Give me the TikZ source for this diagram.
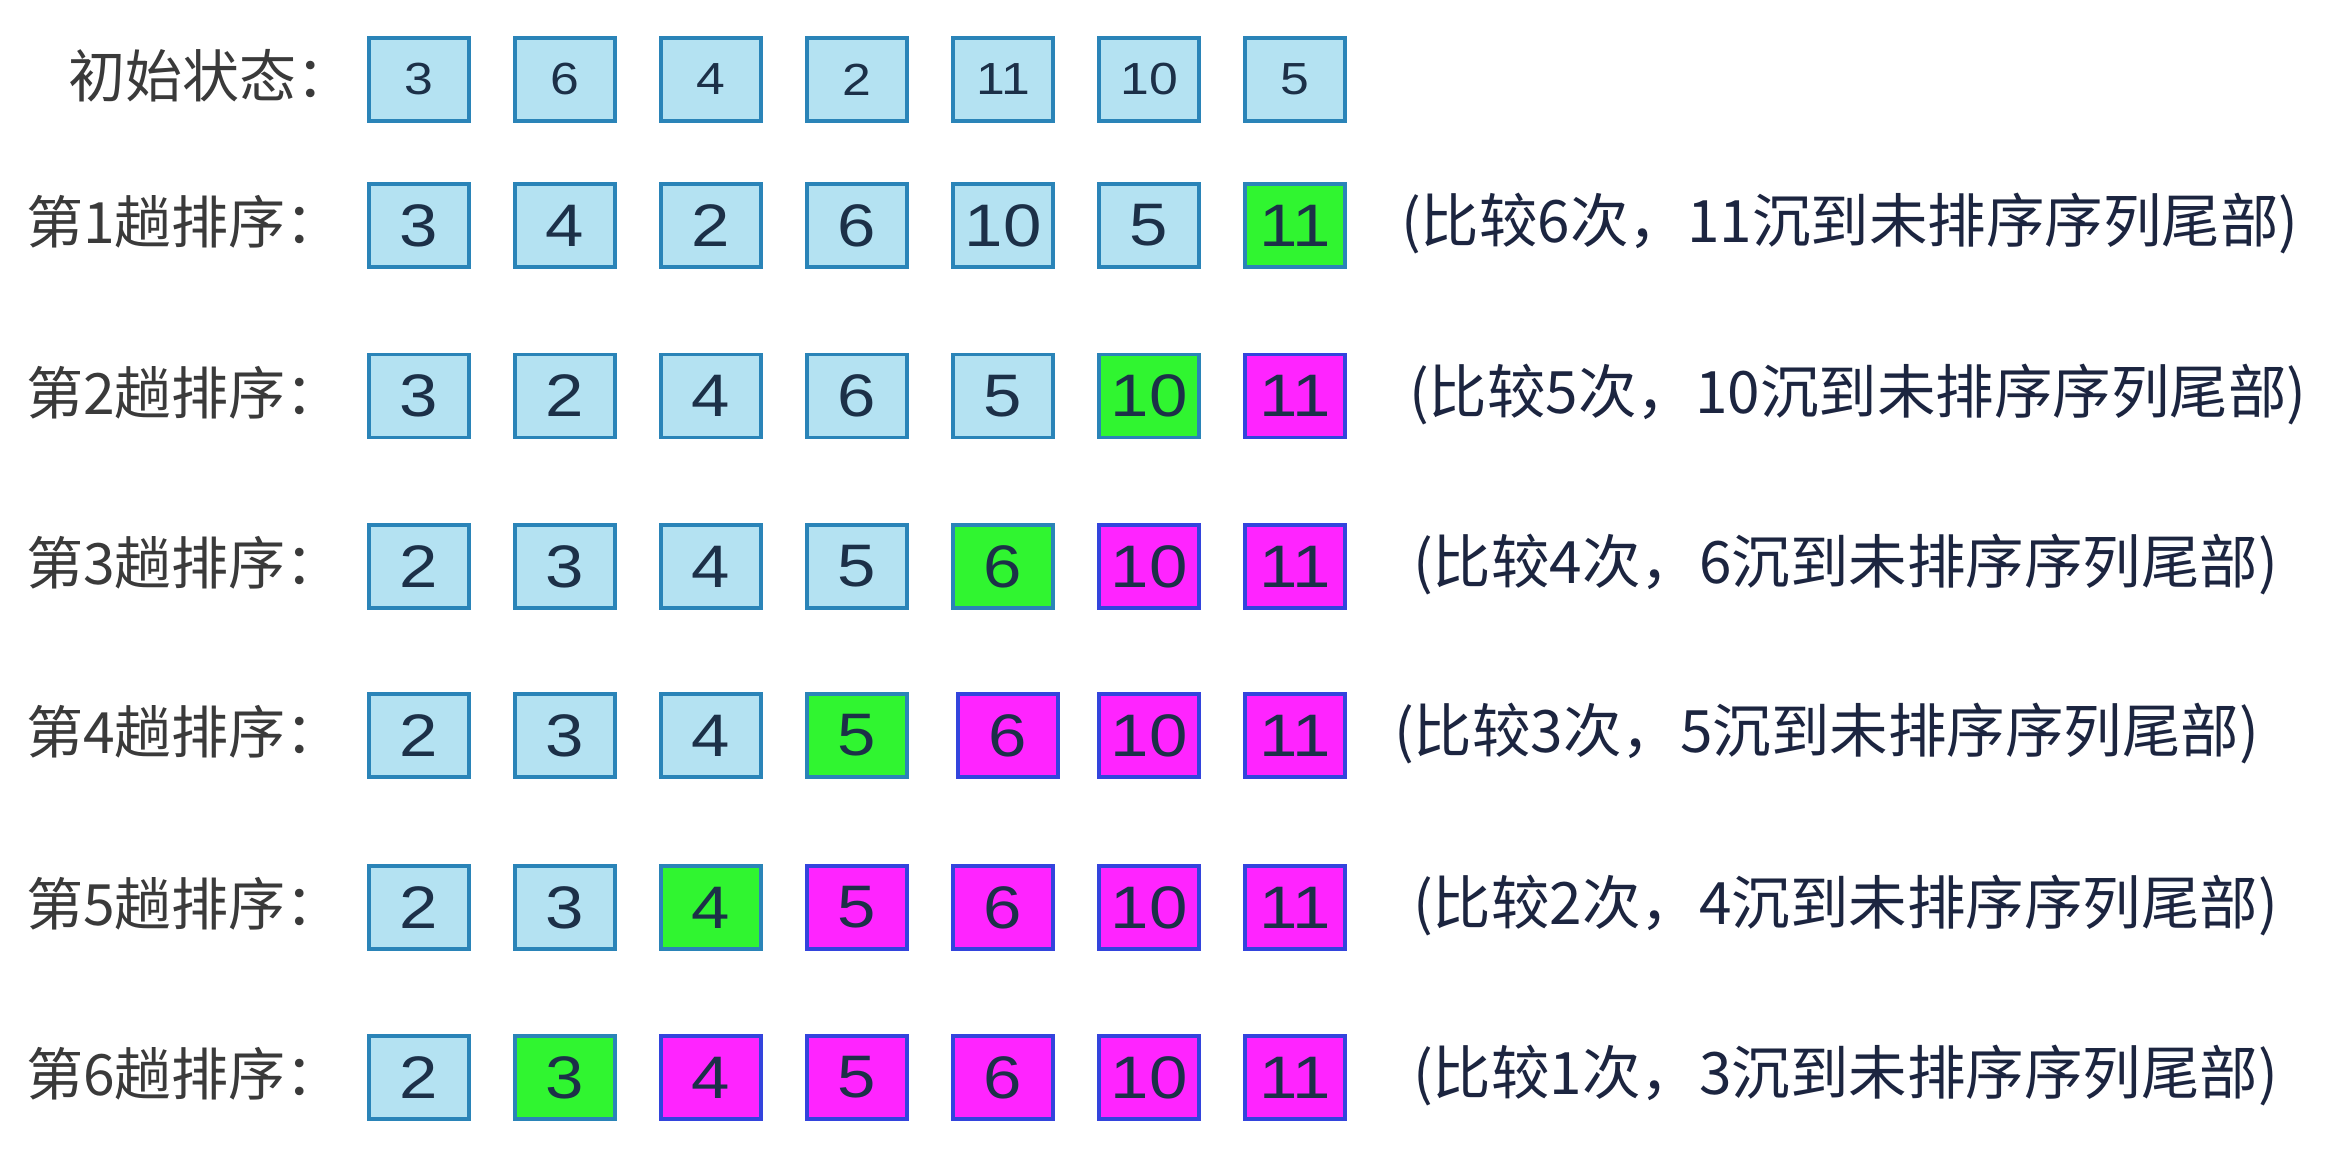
\documentclass[tikz,border=0pt]{standalone}
\usepackage{fontspec}
\newfontfamily\cjk{Noto Sans CJK SC}
\newfontfamily\digitfont[FakeStretch=1.15]{Liberation Sans}
\definecolor{cellfill}{HTML}{B4E2F2}
\definecolor{cellborder}{HTML}{2A84B8}
\definecolor{greenfill}{HTML}{30F530}
\definecolor{magfill}{HTML}{FF24FF}
\definecolor{digitcol}{HTML}{1C3048}
\definecolor{labelcol}{HTML}{3A3A3A}
\definecolor{notecol}{HTML}{1C2540}
\tikzset{
  cell/.style={rectangle, draw=cellborder, line width=3.5pt, minimum width=100pt, minimum height=83pt,
    inner sep=0pt, text=digitcol, font=\digitfont\fontsize{60}{64}\selectfont},
  smallcell/.style={cell, font=\digitfont\fontsize{45}{48}\selectfont},
  cellblue/.style={fill=cellfill},
  cellgreen/.style={fill=greenfill},
  cellmag/.style={fill=magfill, draw=cellborder!80!magfill!60!blue},
  rowlabel/.style={anchor=west, inner sep=0pt, text=labelcol, font=\cjk\fontsize{57}{60}\selectfont},
  note/.style={anchor=west, inner sep=0pt, text=notecol, font=\cjk\fontsize{58.5}{62}\selectfont}
}
\begin{document}
\begin{tikzpicture}[x=1pt, y=-1pt]
\useasboundingbox[fill=white] (0,0) rectangle (2350,1158);

% row 0
\node[rowlabel] (l0) at (68,76) {初始状态：};
\foreach [count=\i from 0] \v in {3,6,4,2,11,10,5}
  \node[smallcell, cellblue] (r0c\i) at ({419+146*\i},79.5) {\v};

% row 1
\node[rowlabel] (l1) at (26,222) {第1趟排序：};
\foreach [count=\i from 0] \v/\s in {3/cellblue,4/cellblue,2/cellblue,6/cellblue,10/cellblue,5/cellblue,11/cellgreen}
  \node[cell, \s] (r1c\i) at ({419+146*\i},225.5) {\v};
\node[note] (n1) at (1401,224) {(比较6次，11沉到未排序序列尾部)};

% row 2
\node[rowlabel] (l2) at (26,393) {第2趟排序：};
\foreach [count=\i from 0] \v/\s in {3/cellblue,2/cellblue,4/cellblue,6/cellblue,5/cellblue,10/cellgreen,11/cellmag}
  \node[cell, \s] (r2c\i) at ({419+146*\i},396) {\v};
\node[note] (n2) at (1409,395) {(比较5次，10沉到未排序序列尾部)};

% row 3
\node[rowlabel] (l3) at (26,563) {第3趟排序：};
\foreach [count=\i from 0] \v/\s in {2/cellblue,3/cellblue,4/cellblue,5/cellblue,6/cellgreen,10/cellmag,11/cellmag}
  \node[cell, \s] (r3c\i) at ({419+146*\i},566.5) {\v};
\node[note] (n3) at (1413,565) {(比较4次，6沉到未排序序列尾部)};

% row 4
\node[rowlabel] (l4) at (26,732) {第4趟排序：};
\foreach [count=\i from 0] \v/\s in {2/cellblue,3/cellblue,4/cellblue,5/cellgreen,6/cellmag,10/cellmag,11/cellmag}
  \node[cell, \s] (r4c\i) at ({419+146*\i+(\i==4?5:0)},735.5) {\v};
\node[note] (n4) at (1394,734) {(比较3次，5沉到未排序序列尾部)};

% row 5
\node[rowlabel] (l5) at (26,904) {第5趟排序：};
\foreach [count=\i from 0] \v/\s in {2/cellblue,3/cellblue,4/cellgreen,5/cellmag,6/cellmag,10/cellmag,11/cellmag}
  \node[cell, \s] (r5c\i) at ({419+146*\i},907.5) {\v};
\node[note] (n5) at (1413,906) {(比较2次，4沉到未排序序列尾部)};

% row 6
\node[rowlabel] (l6) at (26,1074) {第6趟排序：};
\foreach [count=\i from 0] \v/\s in {2/cellblue,3/cellgreen,4/cellmag,5/cellmag,6/cellmag,10/cellmag,11/cellmag}
  \node[cell, \s] (r6c\i) at ({419+146*\i},1077.5) {\v};
\node[note] (n6) at (1413,1076) {(比较1次，3沉到未排序序列尾部)};
\end{tikzpicture}
\end{document}
